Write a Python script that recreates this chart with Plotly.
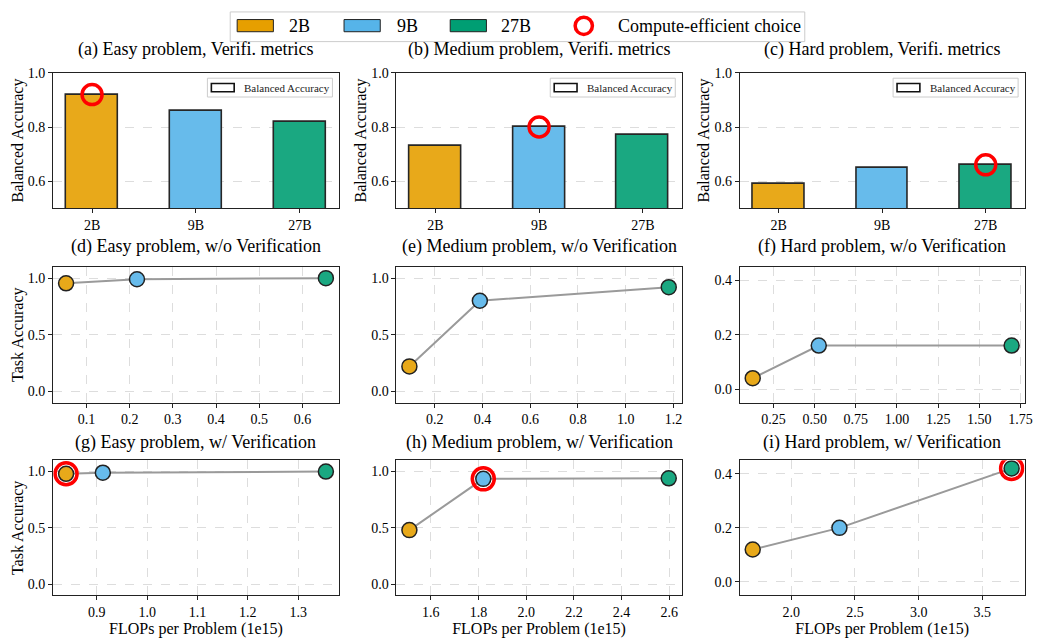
import plotly.graph_objects as go
from plotly.subplots import make_subplots

# ---------------- data ----------------
models = ["2B", "9B", "27B"]
bar_colors = ["#E8A91A", "#67BBEB", "#1AA881"]
legend_colors = ["#E69F00", "#56B4E9", "#009E73"]

bal_acc_easy = [0.92, 0.86, 0.82]
bal_acc_medium = [0.73, 0.80, 0.77]
bal_acc_hard = [0.59, 0.65, 0.66]

flops_wo_easy = [0.053, 0.217, 0.654]
acc_wo_easy = [0.954, 0.99, 1.0]
flops_wo_medium = [0.094, 0.389, 1.18]
acc_wo_medium = [0.22, 0.80, 0.92]
flops_wo_hard = [0.124, 0.525, 1.696]
acc_wo_hard = [0.04, 0.16, 0.16]

flops_w_easy = [0.839, 0.912, 1.355]
acc_w_easy = [0.98, 0.99, 1.0]
flops_w_medium = [1.51, 1.82, 2.598]
acc_w_medium = [0.48, 0.935, 0.94]
flops_w_hard = [1.697, 2.378, 3.73]
acc_w_hard = [0.12, 0.20, 0.42]

bar_titles = ["(a) Easy problem, Verifi. metrics", "(b) Medium problem, Verifi. metrics",
              "(c) Hard problem, Verifi. metrics"]
wo_titles = ["(d) Easy problem, w/o Verification", "(e) Medium problem, w/o Verification",
             "(f) Hard problem, w/o Verification"]
w_titles = ["(g) Easy problem, w/ Verification", "(h) Medium problem, w/ Verification",
            "(i) Hard problem, w/ Verification"]

bar_choice = [0, 1, 2]
w_choice = [0, 1, 2]

# ---------------- layout helpers ----------------
W, H = 1041, 638
FONT = "Liberation Serif"
cols_px = [(53.5, 341.5), (399.5, 687.0), (745.5, 1032.5)]
rows_px = [(66.7, 203.3), (262.7, 400.0), (458.3, 595.0)]
title_gap = [11, 8, 5]


def px(x):
    return x / W


def py(y):
    return 1 - y / H


def mpl_range(vals, m=0.05):
    lo, hi = min(vals), max(vals)
    d = (hi - lo) * m
    return [lo - d, hi + d]


fig = make_subplots(rows=3, cols=3)

axis_common = dict(showline=True, mirror=True, linecolor="#222222", linewidth=1,
                   ticks="outside", ticklen=4, tickwidth=1, tickcolor="#222222",
                   tickfont=dict(family=FONT, size=14, color="black"),
                   zeroline=False)

bar_sets = [bal_acc_easy, bal_acc_medium, bal_acc_hard]
wo_sets = [(flops_wo_easy, acc_wo_easy), (flops_wo_medium, acc_wo_medium), (flops_wo_hard, acc_wo_hard)]
w_sets = [(flops_w_easy, acc_w_easy), (flops_w_medium, acc_w_medium), (flops_w_hard, acc_w_hard)]

annotations = []
shapes = []

RED = "#FF0000"

# ---- row 1 : bars ----
for c in range(3):
    vals = bar_sets[c]
    fig.add_trace(go.Bar(x=[0, 1, 2], y=vals, width=0.5,
                         marker=dict(color=bar_colors, line=dict(color="#262626", width=1.6)),
                         showlegend=False, hoverinfo="skip"), row=1, col=c + 1)
    k = bar_choice[c]
    fig.add_trace(go.Scatter(x=[k], y=[vals[k]], mode="markers",
                             marker=dict(symbol="circle-open", size=20, color=RED,
                                         line=dict(color=RED, width=3.5)),
                             showlegend=False, hoverinfo="skip"), row=1, col=c + 1)

# ---- rows 2,3 : lines ----
for r, sets in ((2, wo_sets), (3, w_sets)):
    for c in range(3):
        xs, ys = sets[c]
        fig.add_trace(go.Scatter(x=xs, y=ys, mode="lines",
                                 line=dict(color="#9a9a9a", width=2),
                                 showlegend=False, hoverinfo="skip"), row=r, col=c + 1)
        fig.add_trace(go.Scatter(x=xs, y=ys, mode="markers",
                                 marker=dict(size=15, color=bar_colors,
                                             line=dict(color="#222222", width=1.5)),
                                 showlegend=False, hoverinfo="skip"), row=r, col=c + 1)
        if r == 3:
            k = w_choice[c]
            fig.add_trace(go.Scatter(x=[xs[k]], y=[ys[k]], mode="markers",
                                     marker=dict(symbol="circle-open", size=22, color=RED,
                                                 line=dict(color=RED, width=3.5)),
                                     showlegend=False, hoverinfo="skip"), row=r, col=c + 1)

# ---- axes ----
layout_upd = {}
for r in range(3):
    for c in range(3):
        idx = r * 3 + c + 1
        xa = "xaxis" if idx == 1 else f"xaxis{idx}"
        ya = "yaxis" if idx == 1 else f"yaxis{idx}"
        x0, x1 = cols_px[c]
        y0, y1 = rows_px[r]
        xd = dict(axis_common, domain=[px(x0), px(x1)])
        yd = dict(axis_common, domain=[py(y1), py(y0)])
        if r == 0:
            xd.update(range=[-0.375, 2.375], tickmode="array", tickvals=[0, 1, 2],
                      ticktext=models, showgrid=False)
            yd.update(range=[0.5, 1.0], tickmode="array", tickvals=[0.6, 0.8, 1.0],
                      ticktext=["0.6", "0.8", "1.0"], showgrid=True, gridcolor="#dddddd",
                      griddash="dash", gridwidth=1,
                      title=dict(text="Balanced Accuracy", font=dict(family=FONT, size=16),
                                 standoff=0))
        else:
            xs = (wo_sets if r == 1 else w_sets)[c][0]
            xd.update(range=mpl_range(xs), showgrid=True, gridcolor="#dddddd",
                      griddash="dash", gridwidth=1)
            if r == 1:
                dt = [0.1, 0.2, 0.25][c]
                fmt = [".1f", ".1f", ".2f"][c]
            else:
                dt = [0.1, 0.2, 0.5][c]
                fmt = ".1f"
                xd.update(title=dict(text="FLOPs per Problem (1e15)",
                                     font=dict(family=FONT, size=16), standoff=4))
            xd.update(tickmode="linear", tick0=0, dtick=dt, tickformat=fmt)
            if c < 2:
                yd.update(range=[-0.1, 1.1], tickmode="array", tickvals=[0, 0.5, 1.0],
                          ticktext=["0.0", "0.5", "1.0"])
            else:
                yd.update(range=[-0.05, 0.45], tickmode="array", tickvals=[0, 0.2, 0.4],
                          ticktext=["0.0", "0.2", "0.4"])
            yd.update(showgrid=True, gridcolor="#dddddd", griddash="dash", gridwidth=1)
            if c == 0:
                yd.update(title=dict(text="Task Accuracy", font=dict(family=FONT, size=16),
                                     standoff=0))
        layout_upd[xa] = xd
        layout_upd[ya] = yd
fig.update_layout(**layout_upd)

# ---- panel titles ----
all_titles = [bar_titles, wo_titles, w_titles]
for r in range(3):
    for c in range(3):
        x0, x1 = cols_px[c]
        annotations.append(dict(text=all_titles[r][c], x=px((x0 + x1) / 2),
                                y=py(rows_px[r][0] - title_gap[r]), xref="paper", yref="paper",
                                xanchor="center", yanchor="bottom", showarrow=False,
                                font=dict(family=FONT, size=18, color="black")))

# ---- inner legend "Balanced Accuracy" in bar panels ----
for c in range(3):
    x0, x1 = cols_px[c]
    top = rows_px[0][0]
    bx1 = x1 - 6.5
    bx0 = bx1 - 126
    by0 = top + 5.3
    by1 = by0 + 19
    shapes.append(dict(type="rect", xref="paper", yref="paper",
                       x0=px(bx0), x1=px(bx1), y0=py(by1), y1=py(by0),
                       line=dict(color="#cccccc", width=1), fillcolor="rgba(255,255,255,0.8)"))
    shapes.append(dict(type="rect", xref="paper", yref="paper",
                       x0=px(bx0 + 4), x1=px(bx0 + 27), y0=py(by0 + 13.7), y1=py(by0 + 5.3),
                       line=dict(color="#111111", width=1.6), fillcolor="white"))
    annotations.append(dict(text="Balanced Accuracy", x=px(bx0 + 35), y=py(by0 + 9.5),
                            xref="paper", yref="paper", xanchor="left", yanchor="middle",
                            showarrow=False, font=dict(family=FONT, size=11, color="#222222")))

# ---- main legend ----
shapes.append(dict(type="rect", xref="paper", yref="paper",
                   x0=px(232), x1=px(811), y0=py(35), y1=py(5),
                   line=dict(color="#cccccc", width=1), fillcolor="white"))
patch_x = [239, 346.7, 453.7]
text_x = [289, 397.7, 503]
for i in range(3):
    shapes.append(dict(type="rect", xref="paper", yref="paper",
                       x0=px(patch_x[i]), x1=px(patch_x[i] + 36.5), y0=py(25), y1=py(12.7),
                       line=dict(color="#222222", width=1), fillcolor=legend_colors[i]))
    annotations.append(dict(text=models[i], x=px(text_x[i]), y=py(19.5), xref="paper",
                            yref="paper", xanchor="left", yanchor="middle", showarrow=False,
                            font=dict(family=FONT, size=18, color="black")))
rr = 8.7
shapes.append(dict(type="circle", xref="paper", yref="paper",
                   x0=px(588.3 - rr), x1=px(588.3 + rr), y0=py(19 + rr), y1=py(19 - rr),
                   line=dict(color=RED, width=3.5)))
annotations.append(dict(text="Compute-efficient choice", x=px(621), y=py(19.5), xref="paper",
                        yref="paper", xanchor="left", yanchor="middle", showarrow=False,
                        font=dict(family=FONT, size=18, color="black")))

fig.update_layout(width=W, height=H, margin=dict(l=0, r=0, t=0, b=0),
                  plot_bgcolor="white", paper_bgcolor="white",
                  font=dict(family=FONT, color="black"),
                  showlegend=False, annotations=annotations, shapes=shapes,
                  bargap=0)

fig.write_html("out.html")
